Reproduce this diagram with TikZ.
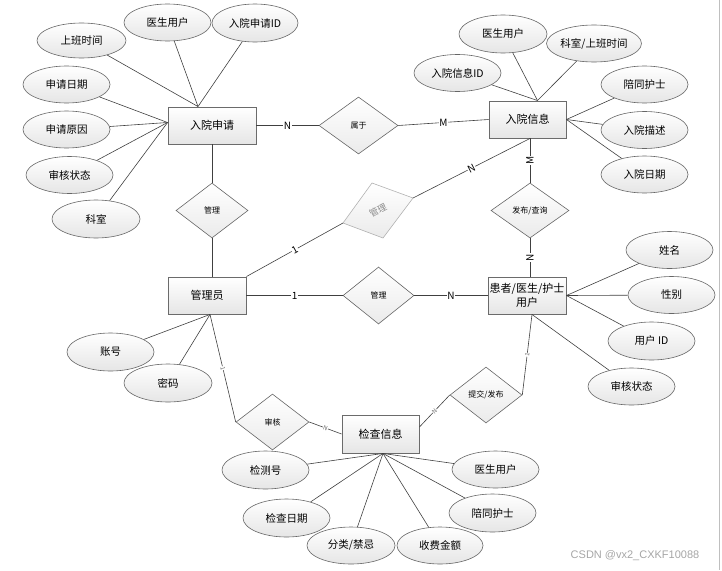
\documentclass[tikz,border=0pt]{standalone}
\usepackage{fontspec}
\setmainfont{Noto Sans CJK SC}
\newfontfamily\wmfont{Liberation Sans}
\usetikzlibrary{shapes.geometric}
\begin{document}
\begin{tikzpicture}[x=1pt,y=-1pt,
  ent/.style={draw=black!58, line width=0.9pt, top color=white, bottom color=black!10, minimum width=78pt, minimum height=37pt, inner sep=1pt, font=\fontsize{11}{14}\selectfont, align=center},
  attr/.style={ellipse, draw=black!60, line width=0.6pt, top color=white, bottom color=black!10, minimum width=87pt, minimum height=37pt, inner sep=0pt, font=\fontsize{10.5}{12}\selectfont},
  rel/.style={diamond, draw=black!60, line width=0.6pt, top color=white, bottom color=black!8, minimum width=72pt, minimum height=56pt, inner sep=0pt, font=\fontsize{8}{9}\selectfont},
  conn/.style={draw=black!75, line width=0.6pt},
  card/.style={fill=white, inner sep=0.6pt, font=\fontsize{10}{11}\selectfont},
  tinycard/.style={fill=white, inner sep=0.3pt, font=\fontsize{6}{6}\selectfont, text=black!60},
]
\useasboundingbox (0,0) rectangle (722,570);
\draw[black!25, line width=0.8pt] (719.5,0) -- (719.5,570);

% entities
\node[ent, minimum width=88pt] (ryshq) at (212,125.5) {入院申请};
\node[ent, minimum width=77pt] (ryxx) at (527.5,119.5) {入院信息};
\node[ent] (admin) at (207,295.5) {管理员};
\node[ent] (user) at (527,295.5) {患者/医生/护士\\用户};
\node[ent, minimum width=77pt, minimum height=38pt] (jcxx) at (380.5,434) {检查信息};

% relations
\node[rel, minimum width=79pt, minimum height=57pt] (sy) at (358.5,125.5) {属于};
\node[rel, minimum height=55pt] (glA) at (212,210.5) {管理};
\node[rel, minimum width=78pt, minimum height=55pt] (fbcx) at (530,210.5) {发布/查询};
\node[rel, minimum width=71pt, minimum height=57pt] (glB) at (378.5,295.5) {管理};
\node[rel, minimum width=73pt] (sh) at (272.5,422) {审核};
\node[rel] (tjfb) at (486,395) {提交/发布};

% grey skewed diamond
\coordinate (gt) at (372,183);
\coordinate (gr) at (413,198);
\coordinate (gb) at (383,238);
\coordinate (gl) at (343,223);
\draw[draw=black!30, line width=0.6pt, top color=white, bottom color=black!8] (gt) -- (gr) -- (gb) -- (gl) -- cycle;
\node[rotate=28, text=black!45, font=\fontsize{9}{9}\selectfont] (glC) at (378,210.5) {管理};

% attributes top-left
\node[attr, minimum width=89pt, minimum height=35pt] (a1) at (81.5,40.5) {上班时间};
\node[attr] (a2) at (167.5,22.5) {医生用户};
\node[attr, minimum width=86pt, minimum height=38pt] (a3) at (255,23) {入院申请ID};
\node[attr] (a4) at (66.5,84.5) {申请日期};
\node[attr] (a5) at (66.5,129.5) {申请原因};
\node[attr] (a6) at (69.5,175) {审核状态};
\node[attr, minimum width=88pt, minimum height=38pt] (a7) at (96,219) {科室};

% attributes top-right
\node[attr, minimum width=88pt, minimum height=38pt] (b1) at (503,34) {医生用户};
\node[attr, minimum width=88pt] (b2) at (594,43.5) {科室/上班时间};
\node[attr] (b3) at (457.5,73) {入院信息ID};
\node[attr] (b4) at (644.5,84.5) {陪同护士};
\node[attr] (b5) at (644.5,130) {入院描述};
\node[attr] (b6) at (644.5,174.5) {入院日期};

% attributes right-middle
\node[attr] (c1) at (669.5,250) {姓名};
\node[attr] (c2) at (671.5,295) {性别};
\node[attr, minimum height=38pt] (c3) at (651.5,341) {用户 ID};
\node[attr] (c4) at (631.5,386.5) {审核状态};

% attributes left-middle
\node[attr, minimum height=38pt] (d1) at (110.5,352) {账号};
\node[attr, minimum width=88pt, minimum height=38pt] (d2) at (168,383) {密码};

% attributes bottom
\node[attr, minimum height=38pt] (e1) at (265.5,470) {检测号};
\node[attr, minimum height=38pt] (e2) at (286.5,518) {检查日期};
\node[attr, minimum width=88pt] (e3) at (351,545.5) {分类/禁忌};
\node[attr, minimum width=86pt] (e4) at (440,545.5) {收费金额};
\node[attr, minimum height=38pt] (e5) at (492.5,513) {陪同护士};
\node[attr] (e6) at (495.5,469.5) {医生用户};

% convergence points
\coordinate (ryshqT) at ([xshift=-14pt]ryshq.north);
\coordinate (ryshqL) at ([yshift=3pt]ryshq.west);
\coordinate (ryxxT) at ([xshift=10pt]ryxx.north);
\coordinate (ryxxB) at ([xshift=2.5pt]ryxx.south);
\coordinate (userB) at ([xshift=5pt]user.south);
\coordinate (adminB) at ([xshift=3pt]admin.south);
\coordinate (jcxxB) at ([xshift=2.5pt]jcxx.south);
\coordinate (jcxxR) at ([yshift=7pt]jcxx.east);

% attribute lines
\foreach \a in {a1,a2,a3} \draw[conn] (\a) -- (ryshqT);
\foreach \a in {a4,a5,a6,a7} \draw[conn] (\a) -- (ryshqL);
\foreach \a in {b1,b2,b3} \draw[conn] (\a) -- (ryxxT);
\foreach \a in {b4,b5,b6} \draw[conn] (\a) -- (ryxx.east);
\foreach \a in {c1,c2,c3} \draw[conn] (\a) -- (user.east);
\draw[conn] (c4) -- (userB);
\foreach \a in {d1,d2} \draw[conn] (\a) -- (adminB);
\foreach \a in {e1,e2,e3,e4,e5,e6} \draw[conn] (\a) -- (jcxxB);

% relation lines
\draw[conn] (ryshq.east) -- node[card] {N} (sy.west);
\draw[conn] (sy.east) -- node[card] {M} (ryxx.west);
\draw[conn] (ryshq.south) -- (glA.north);
\draw[conn] (glA.south) -- (glA.south |- admin.north);
\draw[conn] (admin.east) -- node[card] {1} (glB.west);
\draw[conn] (glB.east) -- node[card] {N} (user.west);
\draw[conn] (fbcx.north |- ryxx.south) -- node[card, rotate=90] {M} (fbcx.north);
\draw[conn] (fbcx.south) -- node[card, rotate=90] {N} (fbcx.south |- user.north);
\draw[conn] (admin.north east) -- node[card, sloped] {1} (gl);
\draw[conn] (gr) -- node[card, sloped] {N} (ryxxB);
\draw[conn] (adminB) -- node[tinycard, sloped] {1} (sh.west);
\draw[conn] (sh.east) -- node[tinycard, sloped] {N} (jcxx.west);
\draw[conn] (jcxxR) -- node[tinycard, sloped] {N} (tjfb.west);
\draw[conn] (tjfb.east) -- node[tinycard, sloped] {1} (userB);

% watermark
\node[text=black!35, font=\wmfont\fontsize{11}{12}\selectfont] (wm) at (635,556) {CSDN @vx2\_CXKF10088};
\end{tikzpicture}
\end{document}
